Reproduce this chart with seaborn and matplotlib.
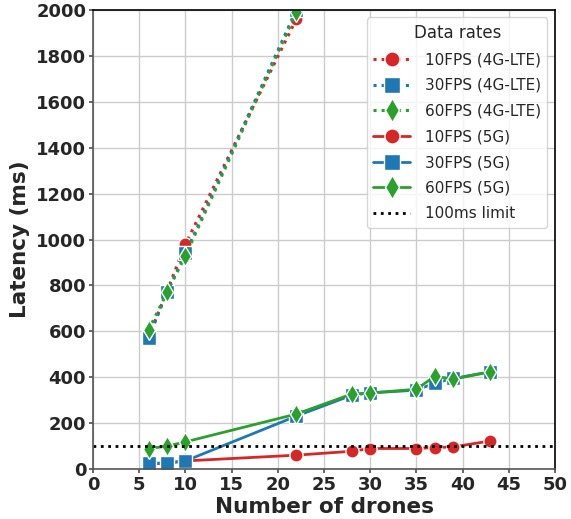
import matplotlib
matplotlib.use("Agg")
import matplotlib.pyplot as plt
import seaborn as sns
import pandas as pd

sns.set_theme(style="whitegrid")
plt.rcParams['font.family'] = ['DejaVu Sans']

x_lte = [6, 8, 10, 22]
lte_10 = [575, 775, 980, 1960]
lte_30 = [570, 770, 940, 2000]
lte_60 = [605, 770, 930, 1990]

x_5g = [6, 8, 10, 22, 28, 30, 35, 37, 39, 43]
g5_10 = [22, 26, 36, 61, 78, 90, 90, 94, 97, 123]
g5_30 = [25, 28, 36, 231, 322, 332, 344, 375, 395, 424]
g5_60 = [90, 100, 119, 240, 327, 332, 348, 405, 392, 424]

labels_lte = ["10FPS (4G-LTE)", "30FPS (4G-LTE)", "60FPS (4G-LTE)"]
labels_5g = ["10FPS (5G)", "30FPS (5G)", "60FPS (5G)"]
limit = 100

colors = ["#d62728", "#1f77b4", "#2ca02c"]
markers = ["o", "s", "d"]
sizes = [9.5, 9.5, 10.5]

fig, ax = plt.subplots(figsize=(5.71, 5.19), dpi=100)
fig.subplots_adjust(left=0.163, right=0.972, top=0.981, bottom=0.096)

for ys, lab, c, m, s in zip([lte_10, lte_30, lte_60], labels_lte, colors, markers, sizes):
    sns.lineplot(x=x_lte, y=ys, ax=ax, color=c, marker=m, markersize=s,
                 linestyle=":", linewidth=2.2, markeredgecolor="white",
                 markeredgewidth=1, label=lab)
for ys, lab, c, m, s in zip([g5_10, g5_30, g5_60], labels_5g, colors, markers, sizes):
    sns.lineplot(x=x_5g, y=ys, ax=ax, color=c, marker=m, markersize=s,
                 linestyle="-", linewidth=2, markeredgecolor="white",
                 markeredgewidth=1, label=lab)
ax.axhline(limit, color="black", linestyle=":", linewidth=2, label="100ms limit")

ax.set_xlim(0, 50)
ax.set_ylim(0, 2000)
ax.set_xticks(range(0, 51, 5))
ax.set_yticks(range(0, 2001, 200))
ax.set_xlabel("Number of drones", fontsize=15.5, fontweight="bold", labelpad=2)
ax.set_ylabel("Latency (ms)", fontsize=15.5, fontweight="bold")
for t in ax.get_xticklabels() + ax.get_yticklabels():
    t.set_fontweight("bold")
    t.set_fontsize(13)
ax.tick_params(axis="both", which="both", length=3, color="#555555", bottom=True, left=True, pad=2)
for name, sp in ax.spines.items():
    sp.set_linewidth(1.2)
    sp.set_color("#555555" if name in ("left", "bottom") else "black")

leg = ax.legend(title="Data rates", fontsize=11, title_fontsize=12, loc="upper right",
                labelspacing=0.7, handlelength=2.4, handletextpad=1.0,
                borderaxespad=0.5, markerscale=1.15)
fig.savefig("out.png", dpi=100)
